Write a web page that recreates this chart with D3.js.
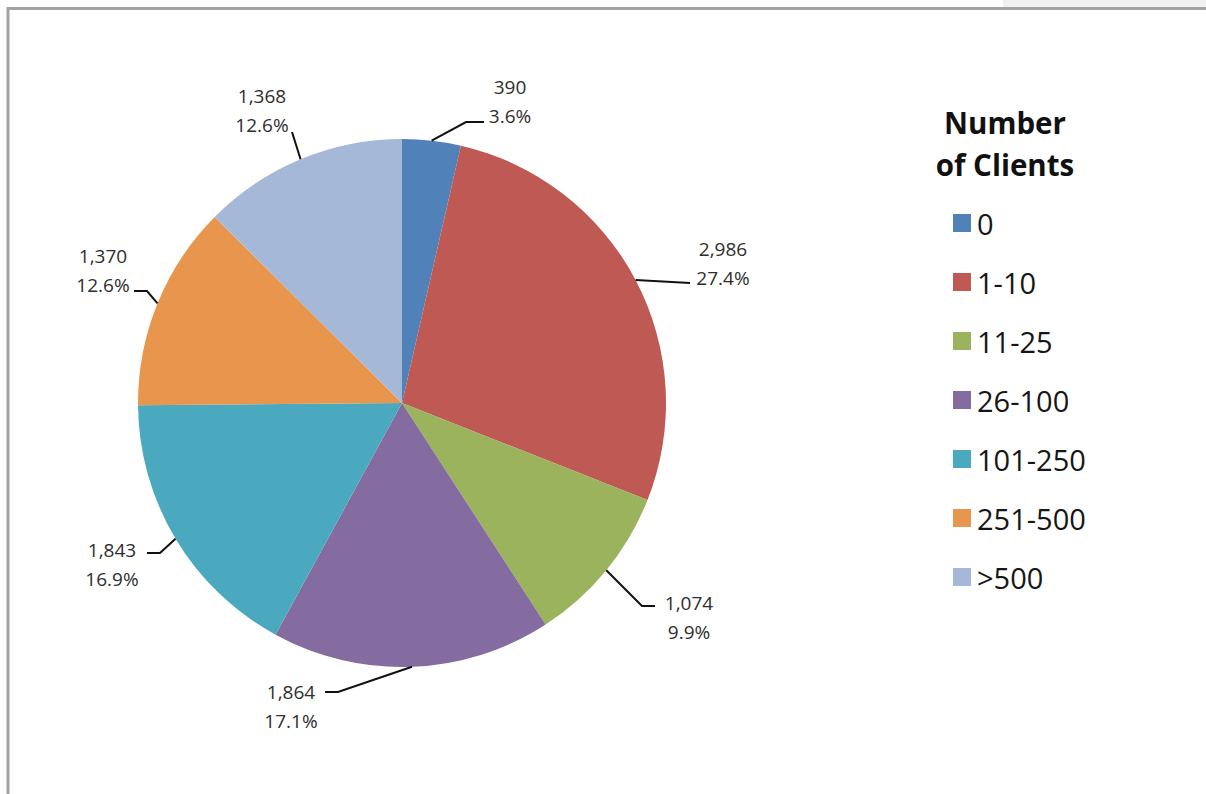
<!DOCTYPE html><html><head><meta charset="UTF-8"><script src="https://d3js.org/d3.v7.min.js"></script><style>
            body { margin: 0; background: #fff; }
            #chart { width: 1206px; height: 794px; font-family: "Open Sans", sans-serif; }
            .lbl { font-size: 19px; fill: #2e2e2e; }
            .leader { fill: none; stroke: #111; stroke-width: 2px; }
            .legend-title { font-size: 29.5px; font-weight: bold; fill: #111; }
            .legend-text { font-size: 29px; fill: #161616; }
        </style></head><body><div id="chart"></div><script>
            const categories = ["0", "1-10", "11-25", "26-100", "101-250", "251-500", ">500"];
            const counts = [390, 2986, 1074, 1864, 1843, 1370, 1368];
            const percentLabels = ["3.6%", "27.4%", "9.9%", "17.1%", "16.9%", "12.6%", "12.6%"];
            const colors = ["#5181b9", "#be5a53", "#9bb35d", "#846ca0", "#4ba9bf", "#e8964d", "#a5b8d8"];

            // label placement (layout only): text centre x, first baseline y, leader bend points
            const labelLayout = [
                {tx: 510, ty: 94, pts: [[466, 122], [484, 122]]},
                {tx: 723, ty: 256, pts: [[690, 283]]},
                {tx: 689, ty: 610, pts: [[642, 606], [655, 606]]},
                {tx: 291, ty: 699, pts: [[338, 692], [325, 692]]},
                {tx: 112, ty: 557, pts: [[160, 553], [147, 553]]},
                {tx: 103, ty: 263, pts: [[147, 291], [134, 291]]},
                {tx: 262, ty: 103, pts: [[292, 132]]}
            ];

            const W = 1206, H = 794;
            const cx = 402, cy = 403, radius = 264;

            const svg = d3.select('#chart').append('svg')
                .attr('width', W)
                .attr('height', H);

            // frame like the screenshot
            svg.append('rect').attr('x', 1003).attr('y', 0).attr('width', 203).attr('height', 7).attr('fill', '#f1f1f1');
            svg.append('line').attr('x1', 7).attr('x2', W).attr('y1', 8.5).attr('y2', 8.5)
                .attr('stroke', '#a3a3a3').attr('stroke-width', 3);
            svg.append('line').attr('x1', 8).attr('x2', 8).attr('y1', 7).attr('y2', H)
                .attr('stroke', '#a3a3a3').attr('stroke-width', 3);

            const pie = d3.pie().sort(null).value(d => d);
            const arcs = pie(counts);
            const arc = d3.arc().innerRadius(0).outerRadius(radius);

            const g = svg.append('g').attr('transform', `translate(${cx},${cy})`);
            g.selectAll('path.slice')
                .data(arcs)
                .enter().append('path')
                .attr('class', 'slice')
                .attr('d', arc)
                .attr('fill', (d, i) => colors[i]);

            // leader lines, starting on the rim at mid angle
            const line = d3.line();
            arcs.forEach((d, i) => {
                const a = (d.startAngle + d.endAngle) / 2;
                const start = [cx + radius * Math.sin(a), cy - radius * Math.cos(a)];
                const lay = labelLayout[i];
                svg.append('path')
                    .attr('class', 'leader')
                    .attr('d', line([start].concat(lay.pts)));
                const t = svg.append('text')
                    .attr('class', 'lbl')
                    .attr('text-anchor', 'middle')
                    .attr('x', lay.tx)
                    .attr('y', lay.ty);
                t.append('tspan').attr('x', lay.tx).text(d3.format(',')(counts[i]));
                t.append('tspan').attr('x', lay.tx).attr('dy', 29).text(percentLabels[i]);
            });

            // legend
            const lg = svg.append('g');
            lg.append('text').attr('class', 'legend-title').attr('text-anchor', 'middle')
                .attr('x', 1005).attr('y', 134).text('Number');
            lg.append('text').attr('class', 'legend-title').attr('text-anchor', 'middle')
                .attr('x', 1005).attr('y', 176).text('of Clients');

            const items = lg.selectAll('g.item')
                .data(categories)
                .enter().append('g')
                .attr('class', 'item')
                .attr('transform', (d, i) => `translate(953, ${214 + i * 59})`);
            items.append('rect')
                .attr('width', 18).attr('height', 18)
                .attr('fill', (d, i) => colors[i]);
            items.append('text')
                .attr('class', 'legend-text')
                .attr('x', 24).attr('y', 21)
                .text(d => d);
        </script></body></html>
